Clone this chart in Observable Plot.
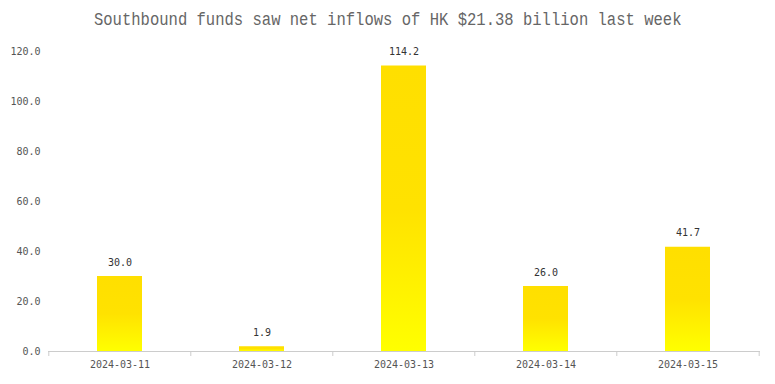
<!DOCTYPE html>
<html>
<head>
<meta charset="utf-8">
<script src="https://cdn.jsdelivr.net/npm/d3@7"></script>
<script src="https://cdn.jsdelivr.net/npm/@observablehq/plot@0.6"></script>
<style>
  html, body { margin: 0; padding: 0; background: #fff; }
  #title { height: 40px; line-height: 40px; text-align: center; color: #666; white-space: nowrap; }
  #title span { display: inline-block; font-family: "Liberation Mono", "DejaVu Sans Mono", monospace; font-size: 18.5px; transform: scaleX(0.84); transform-origin: center; }
</style>
</head>
<body>
<div id="title"><span>Southbound funds saw net inflows of HK $21.38 billion last week</span></div>
<div id="chart"></div>
<script>
const dates = ["2024-03-11", "2024-03-12", "2024-03-13", "2024-03-14", "2024-03-15"];
const inflows = [30.0, 1.9, 114.2, 26.0, 41.7];
const yTicks = [0, 20, 40, 60, 80, 100, 120];

const data = dates.map((d, i) => ({date: d, value: inflows[i]}));

const W = 775, H = 344, ML = 48, MR = 15;
const step = (W - ML - MR) / dates.length;

const defs = () => {
  const ns = "http://www.w3.org/2000/svg";
  const d = document.createElementNS(ns, "defs");
  const g = document.createElementNS(ns, "linearGradient");
  g.setAttribute("id", "barGrad");
  g.setAttribute("x1", "0"); g.setAttribute("y1", "0");
  g.setAttribute("x2", "0"); g.setAttribute("y2", "1");
  [["0", "#ffdf00"], ["0.5", "#ffe200"], ["1", "#ffff00"]].forEach(([o, c]) => {
    const s = document.createElementNS(ns, "stop");
    s.setAttribute("offset", o);
    s.setAttribute("stop-color", c);
    g.appendChild(s);
  });
  d.appendChild(g);
  return d;
};

const chart = Plot.plot({
  width: W,
  height: H,
  marginLeft: ML,
  marginRight: MR,
  marginTop: 11,
  marginBottom: 33,
  style: {fontFamily: "'DejaVu Sans Mono', monospace", fontSize: "10px", color: "#555", background: "#fff"},
  x: {domain: dates, paddingInner: 0.68, paddingOuter: 0.34, tickSize: 0, tickPadding: 9, label: null},
  y: {domain: [0, 120], ticks: yTicks, tickFormat: d => d.toFixed(1), tickSize: 0, tickPadding: 8, label: null},
  marks: [
    defs,
    Plot.barY(data, {x: "date", y: "value", fill: "url(#barGrad)"}),
    Plot.ruleY([0], {stroke: "#ccc"}),
    Plot.ruleX(dates, {x: d => d, y1: 0, y2: 0, insetBottom: -5, dx: -step / 2, stroke: "#ccc"}),
    Plot.ruleX([dates[dates.length - 1]], {x: d => d, y1: 0, y2: 0, insetBottom: -5, dx: step / 2, stroke: "#ccc"}),
    Plot.text(data, {x: "date", y: "value", text: d => d.value.toFixed(1), dy: -14, fill: "#333", fontSize: 10})
  ]
});
document.getElementById("chart").appendChild(chart);
</script>
</body>
</html>
